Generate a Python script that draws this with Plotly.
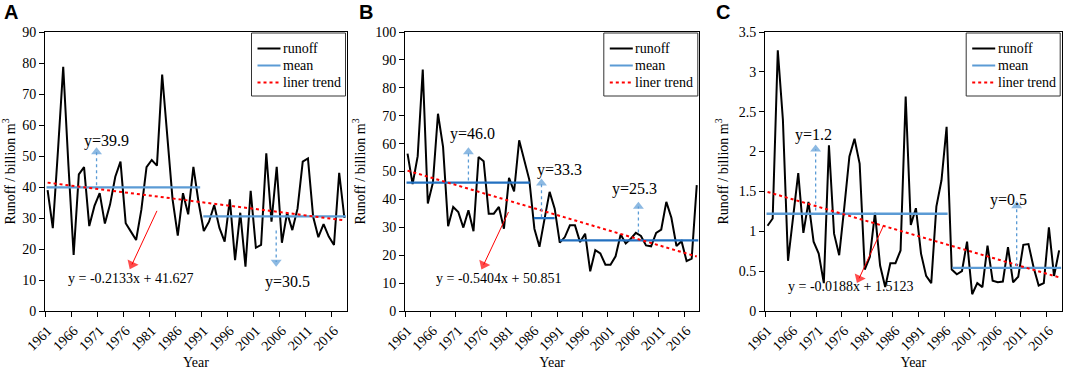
import plotly.graph_objects as go

# ---------------- data ----------------
years = list(range(1961, 2019))

runoff_A = [39, 26.7, 52, 78.8, 47, 18.1, 44.1, 46.4, 27.4, 33.9,
            38, 28.2, 34.4, 43.3, 48.2, 28.3, 25.6, 22.9, 32.6, 46.4,
            48.7, 46.9, 76.3, 56, 36, 24.3, 38, 31.2, 46.5, 35,
            25.8, 28.8, 34.2, 26.8, 22.4, 36, 16.4, 31.7, 14.3, 38.8,
            20.4, 21.3, 50.9, 28.8, 46.5, 22, 31.7, 26.1, 33, 48.2,
            49.2, 30.4, 23.8, 28, 24, 21.3, 44.6, 30]
runoff_B = [56.4, 45.5, 55.5, 86.5, 38.5, 46, 70.7, 58.8, 30.4, 37.3,
            35.5, 29.9, 36.1, 28.6, 55.2, 53.7, 34.9, 34.9, 37.3, 29.5,
            47.7, 42.9, 61.2, 54, 47, 29.5, 23, 33, 42.7, 36.7,
            24.5, 26.5, 30.7, 30.7, 24.7, 27.7, 14.2, 21.8, 20.6, 16.6,
            16.6, 19.6, 27.4, 24.2, 25.9, 28, 26.9, 23.5, 23.2, 28,
            29.2, 39.1, 33.4, 23.3, 25, 17.9, 18.8, 45.1]
runoff_C = [1.07, 1.16, 3.27, 2.4, 0.63, 1.15, 1.73, 0.98, 1.37, 0.87,
            0.72, 0.35, 2.08, 0.97, 0.70, 1.3, 1.94, 2.16, 1.85, 0.52,
            0.68, 1.23, 0.57, 0.30, 0.60, 0.60, 0.76, 2.69, 1.08, 1.29,
            0.72, 0.44, 0.35, 1.31, 1.64, 2.31, 0.52, 0.46, 0.50, 0.87,
            0.21, 0.35, 0.30, 0.82, 0.38, 0.36, 0.37, 0.80, 0.36, 0.43,
            0.83, 0.84, 0.55, 0.32, 0.35, 1.05, 0.44, 0.76]

trend_slope = [-0.2133, -0.5404, -0.0188]
trend_icpt = [41.627, 50.851, 1.5123]
trend_text = ["y = -0.2133x + 41.627", "y = -0.5404x + 50.851", "y = -0.0188x + 1.5123"]

# mean segments: start year, end year, level
mean_start = [[1960.8, 1990.9], [1960.8, 1985.9, 1991.0], [1960.8, 1997.1]]
mean_end = [[1990.3, 2018.3], [1985.1, 1990.0, 2018.3], [1996.2, 2018.4]]
mean_val = [[39.9, 30.5], [46.0, 33.3, 25.3], [1.22, 0.54]]

# mean labels and their arrows
mean_lbl_text = [["y=39.9", "y=30.5"], ["y=46.0", "y=33.3", "y=25.3"], ["y=1.2", "y=0.5"]]
mean_lbl_x = [[1972.3, 2007.0], [1973.8, 1991.0, 2005.7], [1970.0, 2008.1]]
mean_lbl_y = [[55.0, 9.3], [63.4, 50.4, 43.6], [2.21, 1.39]]
arrow_x = [[1970.4, 2004.9], [1973.0, 1987.4, 2006.5], [1970.4, 2009.7]]
arrow_from = [[40.6, 26.0], [46.8, 33.6, 28.1], [1.26, 0.56]]
arrow_to = [[51.3, 15.8], [57.0, 45.8, 37.5], [2.03, 1.32]]

# trend equation label and red pointer
eq_x = [1977.0, 1979.0, 1977.3]
eq_y = [10.5, 11.6, 0.31]
red_from_x = [1982.0, 1980.9, 1983.7]
red_from_y = [32.3, 35.5, 1.075]
red_to_x = [1977.2, 1976.0, 1978.9]
red_to_y = [15.0, 16.6, 0.41]

y_max = [90, 100, 3.5]
y_dtick = [10, 10, 0.5]
tick_years = list(range(1961, 2019, 5))
panel_letters = ["A", "B", "C"]
legend_names = ["runoff", "mean", "liner trend"]
x_title = "Year"
y_title = "Runoff / billion m<sup>3</sup>"

# ---------------- layout constants ----------------
W, H = 1065, 370
def xp(v):
    return v / W
def yp(v):
    return 1 - v / H

plot_left = [45, 405, 765]
plot_right = [347, 699.3, 1061.7]
plot_top, plot_bottom = 32, 311
letter_x = [2, 357, 714]
serif = "Times New Roman, Liberation Serif, serif"
sans = "Arial, Liberation Sans, sans-serif"
mean_colors = ["#5B9BD5", "#2270C0", "#5B9BD5"]
arrow_color = "#5B9BD5"

series = [runoff_A, runoff_B, runoff_C]
fig = go.Figure()
annotations = []
shapes = []

for k in range(3):
    xa = "x" if k == 0 else f"x{k+1}"
    ya = "y" if k == 0 else f"y{k+1}"
    # runoff
    fig.add_trace(go.Scatter(x=years, y=series[k], mode="lines",
                             line=dict(color="black", width=2),
                             xaxis=xa, yaxis=ya, showlegend=False, name="runoff"))
    # means
    for s, e, v in zip(mean_start[k], mean_end[k], mean_val[k]):
        fig.add_trace(go.Scatter(x=[s, e], y=[v, v], mode="lines",
                                 line=dict(color=mean_colors[k], width=2.3),
                                 xaxis=xa, yaxis=ya, showlegend=False, name="mean"))
    # trend
    trend = [trend_slope[k] * (i + 1) + trend_icpt[k] for i in range(len(years))]
    fig.add_trace(go.Scatter(x=years, y=trend, mode="lines",
                             line=dict(color="red", width=2, dash="dot"),
                             xaxis=xa, yaxis=ya, showlegend=False, name="liner trend"))
    # blue dotted arrows (dotted shaft + triangle head)
    for ax_, y0, y1 in zip(arrow_x[k], arrow_from[k], arrow_to[k]):
        fig.add_trace(go.Scatter(x=[ax_, ax_], y=[y0, y1], mode="lines",
                                 line=dict(color=arrow_color, width=1.3, dash="dot"),
                                 xaxis=xa, yaxis=ya, showlegend=False, hoverinfo="skip"))
        fig.add_trace(go.Scatter(x=[ax_, ax_], y=[y0, y1], mode="markers",
                                 marker=dict(symbol="triangle-up", size=[0, 9.5], angleref="previous",
                                             color=arrow_color, line=dict(width=0)),
                                 xaxis=xa, yaxis=ya, showlegend=False, hoverinfo="skip"))
    # mean labels
    for t, lx, ly in zip(mean_lbl_text[k], mean_lbl_x[k], mean_lbl_y[k]):
        annotations.append(dict(x=lx, y=ly, xref=xa, yref=ya, text=t, showarrow=False,
                                font=dict(family=serif, size=16, color="black")))
    # red pointer
    fig.add_trace(go.Scatter(x=[red_from_x[k], red_to_x[k]], y=[red_from_y[k], red_to_y[k]],
                             mode="lines+markers", line=dict(color="red", width=1),
                             marker=dict(symbol="triangle-up", size=[0, 10.5], angleref="previous",
                                         color="red", line=dict(width=0)),
                             xaxis=xa, yaxis=ya, showlegend=False, hoverinfo="skip"))
    annotations.append(dict(x=eq_x[k], y=eq_y[k], xref=xa, yref=ya, text=trend_text[k],
                            showarrow=False, font=dict(family=serif, size=14, color="black")))

    # axes
    axis_common = dict(showline=True, mirror=True, linecolor="black", linewidth=1,
                       showgrid=False, zeroline=False, automargin=False,
                       tickfont=dict(family=serif, size=14, color="black"))
    fig.layout[f"xaxis{'' if k == 0 else k+1}"] = dict(
        domain=[xp(plot_left[k]), xp(plot_right[k])], anchor=ya,
        range=[1960.5, 2018.5], tickvals=tick_years, ticktext=[str(t) for t in tick_years],
        tickangle=-45, ticks="outside", ticklen=5, tickcolor="rgba(0,0,0,0)",
        minor=dict(tickvals=[t - 0.5 for t in tick_years], ticks="outside", ticklen=5,
                   tickcolor="black", tickwidth=1, showgrid=False),
        title=dict(text=x_title, standoff=4, font=dict(family=serif, size=14, color="black")),
        **axis_common)
    fig.layout[f"yaxis{'' if k == 0 else k+1}"] = dict(
        domain=[yp(plot_bottom), yp(plot_top)], anchor=xa,
        range=[0, y_max[k]], tick0=0, dtick=y_dtick[k], ticks="outside", ticklen=5,
        tickcolor="black",
        title=dict(text=y_title, standoff=6, font=dict(family=serif, size=14, color="black")),
        **axis_common)

    # panel letter
    annotations.append(dict(x=xp(letter_x[k]), y=yp(12), xref="paper", yref="paper",
                            text=f"<b>{panel_letters[k]}</b>", showarrow=False,
                            xanchor="left", yanchor="middle",
                            font=dict(family=sans, size=20, color="black")))

    # manual legend box
    lr = plot_right[k] - 1.5
    ll = lr - 94
    lt, lb = 33, 96
    shapes.append(dict(type="rect", xref="paper", yref="paper",
                       x0=xp(ll), x1=xp(lr), y0=yp(lb), y1=yp(lt),
                       line=dict(color="#333333", width=1), fillcolor="white", layer="above"))
    row_y = [48.5, 65.5, 82.5]
    styles = [dict(color="black", width=2),
              dict(color="#5B9BD5", width=2),
              dict(color="red", width=2, dash="dot")]
    for name, ry, st in zip(legend_names, row_y, styles):
        shapes.append(dict(type="line", xref="paper", yref="paper",
                           x0=xp(ll + 6), x1=xp(ll + 29), y0=yp(ry), y1=yp(ry),
                           line=st, layer="above"))
        annotations.append(dict(x=xp(ll + 29.5), y=yp(ry), xref="paper", yref="paper",
                                text=name, showarrow=False, xanchor="left", yanchor="middle",
                                font=dict(family=serif, size=14, color="black")))

fig.update_layout(width=W, height=H, margin=dict(l=0, r=0, t=0, b=0),
                  paper_bgcolor="white", plot_bgcolor="white",
                  annotations=annotations, shapes=shapes, showlegend=False)

fig.write_html("out.html", config={"displayModeBar": False},
               post_script="document.body.style.margin='0px';")
